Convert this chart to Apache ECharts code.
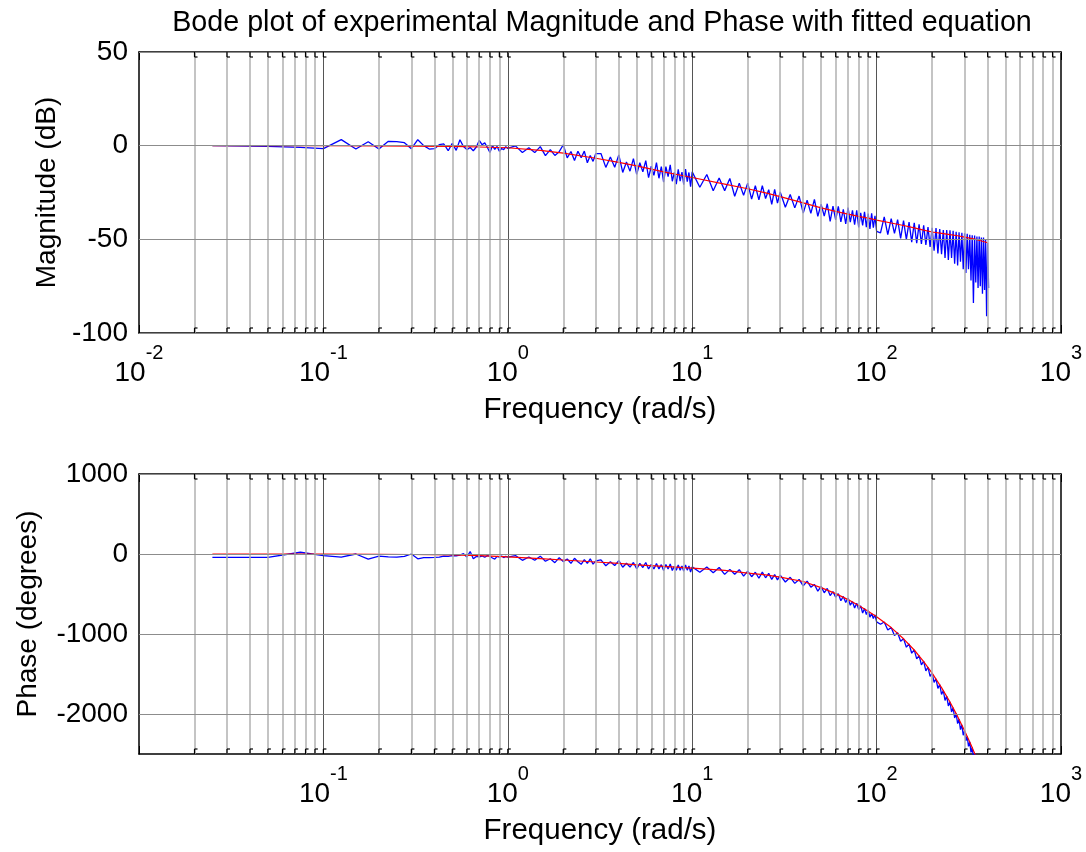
<!DOCTYPE html>
<html>
<head>
<meta charset="utf-8">
<script src="https://cdn.jsdelivr.net/npm/echarts@6/dist/echarts.min.js"></script>
<style>html,body{margin:0;padding:0;background:#fff}#c{width:1086px;height:852px}</style>
</head>
<body>
<div id="c"></div>
<script>
// ---- data ----
const freq = [
  0.025,0.05,0.075,0.1,0.125,0.15,0.175,0.2,0.225,0.25,
  0.275,0.3,0.325,0.35,0.375,0.4,0.425,0.45,0.475,0.5,
  0.525,0.55,0.575,0.6,0.625,0.65,0.675,0.7,0.725,0.75,
  0.775,0.8,0.825,0.85,0.875,0.9,0.925,0.95,0.975,1.0,
  1.1,1.2,1.3,1.4,1.5,1.6,1.7,1.8,1.9,2.0,
  2.1,2.2,2.3,2.4,2.5,2.6,2.7,2.8,2.9,3.0,
  3.2,3.4,3.6,3.8,4.0,4.2,4.4,4.6,4.8,5.0,
  5.2,5.4,5.6,5.8,6.0,6.2,6.4,6.6,6.8,7.0,
  7.2,7.4,7.6,7.8,8.0,8.2,8.4,8.6,8.8,9.0,
  9.2,9.4,9.6,9.8,10,
  11,12,13,14,15,16,17,18,19,20,
  21,22,23,24,25,26,27,28,29,30,
  32,34,36,38,40,42,44,46,48,50,
  52,54,56,58,60,62,64,66,68,70,
  72,74,76,78,80,82,84,86,88,90,
  92,94,96,98,100,
  105,110,115,120,125,130,135,140,145,150,
  155,160,165,170,175,180,185,190,195,200,
  205,210,215,220,225,230,235,240,245,250,
  255,260,265,270,275,280,285,290,295,300,
  305,310,315,320,325,330,335,340,345,350,
  355,360,365,370,375,380,385,390,395,400,
  405
];
const magExp = [
  0,-0.4,-0.9,-1.6,3.2,-1.8,2.1,-1.8,2.3,2.2,
  1.6,-1.6,3.2,0,-1.8,-1.6,0.5,0.9,-2.7,1.2,
  -2.5,3.2,-0.5,-2.1,-1,-2.7,-0.7,2.8,0.5,1.5,
  -1,-3.6,0,-2,-0.4,-3,-1.5,-2.1,-0.5,-1.5,
  -0.1,-3.6,-1.1,-3.7,-0.5,-5.3,-2.1,-5.2,-3.2,0.5,
  -6.5,-3.1,-7.9,-3.0,-6.4,-2.9,-9.1,-5.2,-8.4,-4.2,
  -4.2,-11.6,-6.0,-11.5,-4.9,-14.3,-8.7,-13.6,-6.9,-15.3,
  -9.1,-14.0,-8.0,-17.1,-11.0,-15.8,-9.1,-17.4,-11.2,-19.5,
  -11.2,-16.5,-10.2,-19.0,-14.2,-20.5,-12.7,-18.9,-14.1,-20.8,
  -12.5,-19.2,-14.3,-21.9,-14.0,
  -22.2,-15.4,-24.1,-17.3,-24.0,-17.5,-27.0,-20.0,-26.5,-20.0,
  -28.5,-21.4,-28.9,-21.3,-28.2,-23.5,-31.4,-23.3,-30.7,-24.7,
  -32.9,-26.1,-33.2,-26.9,-36.0,-29.1,-36.1,-28.7,-37.7,-31.2,
  -37.6,-31.0,-40.4,-32.3,-39.6,-32.4,-40.7,-34.0,-41.8,-33.0,
  -40.8,-34.5,-42.2,-34.5,-43.7,-35.9,-42.6,-35.3,-43.5,-36.2,
  -44.4,-36.1,-43.8,-37.5,-45.7,
  -46.5,-38.0,-47.5,-39.0,-46.8,-39.5,-49.5,-40.0,-50.0,-40.8,
  -51.5,-41.2,-52.0,-42.0,-52.5,-42.5,-53.0,-43.5,-54.0,-43.8,
  -56.0,-44.0,-57.5,-44.5,-58.0,-45.0,-60.0,-45.0,-61.0,-45.2,
  -60.0,-45.5,-63.0,-46.0,-64.0,-46.2,-62.0,-46.5,-66.0,-46.8,
  -68.0,-47.0,-66.0,-47.5,-72.0,-47.8,-84.0,-48.0,-73.0,-48.5,
  -76.0,-48.5,-75.0,-49.0,-79.0,-49.0,-77.0,-50.0,-91.0,-52.0,
  -76.0
];
const phaseExp = [
  -43,-43,22,-21,-38,0,-64,-26,-35,-38,
  -30,0,-60,-45,-45,-43,-40,-26,-30,-20,
  -22,-15,4,-38,30,-60,-30,-35,-25,-40,
  -20,-26,-50,-64,-30,-38,-25,-45,-30,-38,
  -19,-79,-38,-78,-27,-91,-59,-108,-46,-95,
  -63,-116,-54,-96,-129,-71,-118,-60,-127,-85,
  -74,-147,-96,-144,-83,-166,-115,-163,-106,-185,
  -117,-169,-106,-188,-130,-187,-119,-186,-133,-205,
  -132,-188,-125,-206,-153,-204,-136,-202,-149,-215,
  -136,-202,-149,-225,-161,
  -227,-163,-234,-169,-255,-192,-254,-196,-277,-214,
  -284,-228,-303,-227,-297,-242,-318,-258,-324,-264,
  -350,-291,-367,-318,-399,-339,-414,-380,-465,-405,
  -485,-430,-520,-470,-540,-495,-585,-530,-605,-550,
  -640,-595,-675,-615,-695,-649,-738,-682,-756,-700,
  -789,-743,-806,-760,-849,
  -878,-850,-950,-918,-1020,-985,-1090,-1058,-1165,-1125,
  -1240,-1198,-1310,-1270,-1385,-1340,-1460,-1415,-1530,-1488,
  -1605,-1560,-1680,-1632,-1755,-1705,-1830,-1776,-1900,-1848,
  -1975,-1920,-2050,-1992,-2120,-2064,-2195,-2136,-2265,-2208,
  -2335,-2278,-2405,-2348,-2480,-2418,-2550,-2488,-2620,-2558,
  -2690,-2630,-2760,-2700,-2830,-2770,-2900,-2840,-2970,-2910,
  -2980
];
const fitFreq = [0.025,0.05,0.1,0.2,0.3,0.5,0.7,1,1.5,2,3,4,5,7,10,15,20,25,30,40,50,60,70,80,90,100,120,140,160,180,200,225,250,275,300,325,350,375,400];
const magFit = [0,0,0,-0.1,-0.2,-0.4,-0.7,-1.1,-2.5,-4.0,-6.7,-8.9,-10.8,-14.0,-17.0,-20.5,-23.0,-25.2,-27.2,-30.5,-33.2,-35.1,-36.5,-37.7,-38.7,-39.7,-41.3,-42.6,-43.9,-45.1,-46.1,-46.8,-47.5,-48.1,-48.8,-49.5,-50.2,-51.0,-51.8];
const phaseFit = [0,-1,-2,-4,-6,-12,-20,-35,-58,-75,-100,-118,-135,-155,-176,-205,-239,-262,-289,-344,-420,-495,-570,-645,-715,-784,-920,-1060,-1200,-1345,-1490,-1670,-1850,-2030,-2210,-2385,-2560,-2740,-2920];

const xMajor = [0.1, 1, 10, 100];
const xMinor = [0.02,0.03,0.04,0.05,0.06,0.07,0.08,0.09,
                0.2,0.3,0.4,0.5,0.6,0.7,0.8,0.9,
                2,3,4,5,6,7,8,9,
                20,30,40,50,60,70,80,90,
                200,300,400,500,600,700,800,900];
const magTicks = [50, 0, -50, -100];
const phaseTicks = [1000, 0, -1000, -2000];
const magRange = [-100, 50];
const phaseRange = [-2500, 1000];

const titleText = 'Bode plot of experimental Magnitude and Phase with fitted equation';
const xName = 'Frequency (rad/s)';
const magName = 'Magnitude (dB)';
const phaseName = 'Phase (degrees)';

// ---- chart ----
const FONT = "'Liberation Sans', Arial, sans-serif";
const zip = (xs, ys) => xs.map((x, i) => [x, ys[i]]);

function logLabel(hideMin) {
  return function (v) {
    const e = Math.round(Math.log10(v));
    if (hideMin && e === -2) return '';
    return '{b|10}{s|' + e + '}';
  };
}
const rich = {
  b: {fontSize: 28, fontFamily: FONT, color: '#000', lineHeight: 44, verticalAlign: 'bottom'},
  s: {fontSize: 20, fontFamily: FONT, color: '#000', lineHeight: 20, verticalAlign: 'top'}
};

function gridLines(yVals) {
  const d = [];
  xMinor.forEach(v => d.push({xAxis: v, lineStyle: {color: '#b0b0b0', width: 1.5, type: 'solid'}}));
  xMajor.forEach(v => d.push({xAxis: v, lineStyle: {color: '#555555', width: 1, type: 'solid'}}));
  yVals.forEach(v => d.push({yAxis: v, lineStyle: {color: '#8c8c8c', width: 1, type: 'solid'}}));
  return d;
}

function minorTickSeries(xi, yi, range) {
  return {
    type: 'custom', xAxisIndex: xi, yAxisIndex: yi, z: 6, silent: true, clip: false,
    data: xMinor.concat(xMajor).map(v => [v]),
    encode: {x: 0},
    renderItem: function (params, api) {
      const v = api.value(0);
      const top = api.coord([v, range[1]]);
      const bot = api.coord([v, range[0]]);
      const st = {stroke: '#000', lineWidth: 1.2};
      return {
        type: 'group',
        children: [
          {type: 'line', shape: {x1: top[0], y1: top[1], x2: top[0], y2: top[1] + 5}, style: st},
          {type: 'line', shape: {x1: top[0], y1: top[1] + 5, x2: top[0] + 3, y2: top[1] + 5}, style: st},
          {type: 'line', shape: {x1: bot[0], y1: bot[1], x2: bot[0], y2: bot[1] - 5}, style: st},
          {type: 'line', shape: {x1: bot[0], y1: bot[1] - 5, x2: bot[0] + 3, y2: bot[1] - 5}, style: st}
        ]
      };
    }
  };
}

function xAxisBase(gridIndex, pos, hideMin, showLabels) {
  return {
    type: 'log', logBase: 10, min: 0.01, max: 1000, gridIndex: gridIndex, position: pos,
    axisLine: {show: true, onZero: false, lineStyle: {color: '#000', width: 1.5}},
    axisTick: {show: true, inside: true, length: 8, lineStyle: {color: '#000'}},
    splitLine: {show: false},
    axisLabel: showLabels ? {show: true, margin: 10, formatter: logLabel(hideMin), rich: rich} : {show: false},
    name: showLabels ? xName : '',
    nameLocation: 'middle', nameGap: 62,
    nameTextStyle: {fontSize: 29.5, fontFamily: FONT, color: '#000'}
  };
}

const option = {
  animation: false,
  backgroundColor: '#fff',
  title: {
    text: titleText, left: 597, top: 4, textAlign: 'center',
    textStyle: {fontSize: 28.7, fontWeight: 'normal', fontFamily: FONT, color: '#000'}
  },
  grid: [
    {left: 139, top: 52, width: 922, height: 281, show: false},
    {left: 139, top: 474, width: 922, height: 280, show: false}
  ],
  xAxis: [
    xAxisBase(0, 'bottom', false, true),
    xAxisBase(1, 'bottom', true, true),
    xAxisBase(0, 'top', false, false),
    xAxisBase(1, 'top', false, false)
  ],
  yAxis: [
    {
      type: 'value', gridIndex: 0, min: magRange[0], max: magRange[1], interval: 50, position: 'left',
      axisLine: {show: true, lineStyle: {color: '#000', width: 1.5}},
      axisTick: {show: true, inside: true, length: 8, lineStyle: {color: '#000'}},
      splitLine: {show: false},
      axisLabel: {margin: 11, fontSize: 28, fontFamily: FONT, color: '#000'},
      name: magName, nameLocation: 'middle', nameGap: 76,
      nameTextStyle: {fontSize: 28, fontFamily: FONT, color: '#000'}
    },
    {
      type: 'value', gridIndex: 1, min: phaseRange[0], max: phaseRange[1], position: 'left',
      axisLine: {show: true, lineStyle: {color: '#000', width: 1.5}},
      axisTick: {show: true, inside: true, length: 8, customValues: phaseTicks, lineStyle: {color: '#000'}},
      splitLine: {show: false},
      axisLabel: {margin: 11, fontSize: 28, fontFamily: FONT, color: '#000', customValues: phaseTicks,
                  formatter: v => String(v)},
      name: phaseName, nameLocation: 'middle', nameGap: 97,
      nameTextStyle: {fontSize: 28, fontFamily: FONT, color: '#000'}
    },
    {
      type: 'value', gridIndex: 0, min: magRange[0], max: magRange[1], interval: 50, position: 'right',
      axisLine: {show: true, lineStyle: {color: '#000', width: 1.5}},
      axisTick: {show: true, inside: true, length: 8, lineStyle: {color: '#000'}},
      splitLine: {show: false}, axisLabel: {show: false}
    },
    {
      type: 'value', gridIndex: 1, min: phaseRange[0], max: phaseRange[1], position: 'right',
      axisLine: {show: true, lineStyle: {color: '#000', width: 1.5}},
      axisTick: {show: true, inside: true, length: 8, customValues: phaseTicks, lineStyle: {color: '#000'}},
      splitLine: {show: false}, axisLabel: {show: false, customValues: phaseTicks}
    }
  ],
  series: [
    {
      type: 'line', xAxisIndex: 0, yAxisIndex: 0, data: [], z: 1, silent: true,
      markLine: {silent: true, symbol: ['none', 'none'], label: {show: false}, animation: false, data: gridLines(magTicks)}
    },
    {
      type: 'line', xAxisIndex: 1, yAxisIndex: 1, data: [], z: 1, silent: true,
      markLine: {silent: true, symbol: ['none', 'none'], label: {show: false}, animation: false, data: gridLines(phaseTicks)}
    },
    minorTickSeries(0, 0, magRange),
    minorTickSeries(1, 1, phaseRange),
    {
      name: 'Experimental magnitude', type: 'line', xAxisIndex: 0, yAxisIndex: 0, z: 3,
      data: zip(freq, magExp), showSymbol: false, clip: true,
      lineStyle: {color: '#0000ff', width: 1.3}, itemStyle: {color: '#0000ff'}
    },
    {
      name: 'Fitted magnitude', type: 'line', xAxisIndex: 0, yAxisIndex: 0, z: 4,
      data: zip(fitFreq, magFit), showSymbol: false, clip: true,
      lineStyle: {color: '#ff0000', width: 1.2}, itemStyle: {color: '#ff0000'}
    },
    {
      name: 'Experimental phase', type: 'line', xAxisIndex: 1, yAxisIndex: 1, z: 3,
      data: zip(freq, phaseExp), showSymbol: false, clip: true,
      lineStyle: {color: '#0000ff', width: 1.3}, itemStyle: {color: '#0000ff'}
    },
    {
      name: 'Fitted phase', type: 'line', xAxisIndex: 1, yAxisIndex: 1, z: 4,
      data: zip(fitFreq, phaseFit), showSymbol: false, clip: true,
      lineStyle: {color: '#ff0000', width: 1.2}, itemStyle: {color: '#ff0000'}
    }
  ]
};

const chart = echarts.init(document.getElementById('c'), null, {renderer: 'canvas'});
chart.setOption(option);
</script>
</body>
</html>
